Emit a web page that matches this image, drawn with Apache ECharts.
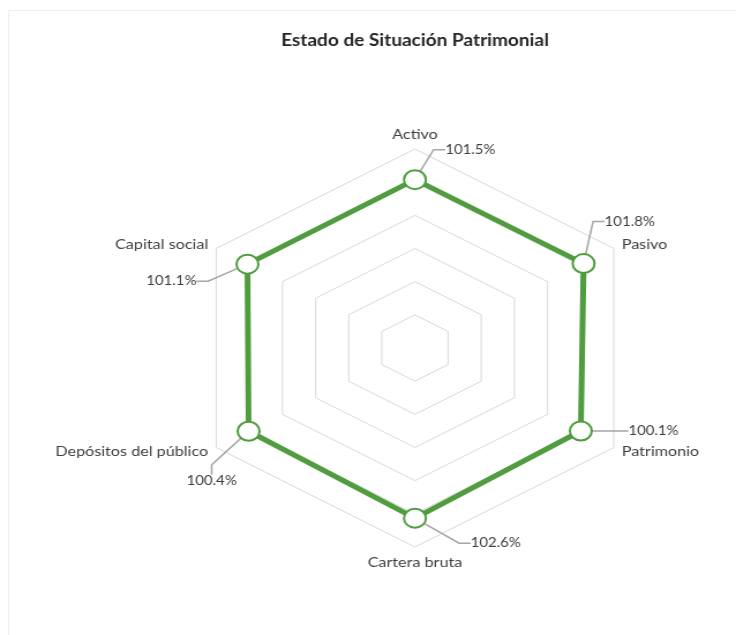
<!DOCTYPE html>
<html><head><meta charset="utf-8">
<script src="https://cdn.jsdelivr.net/npm/echarts@6/dist/echarts.min.js"></script>
<style>
html,body{margin:0;padding:0;background:#fff;overflow:hidden;}
#wrap{width:736px;height:635px;position:relative;overflow:hidden;}
#chart{width:638px;height:635px;transform:scaleX(1.1536);transform-origin:0 0;}
</style></head>
<body><div id="wrap"><div id="chart"></div></div>
<script>
// Data (clockwise from top, as in the reference)
var titleText = 'Estado de Situación Patrimonial';
var categories = ['Activo', 'Pasivo', 'Patrimonio', 'Cartera bruta', 'Depósitos del público', 'Capital social'];
var values = [101.5, 101.8, 100.1, 102.6, 100.4, 101.1];
var axisMax = 120;
var splitCount = 6;

// label offsets (px, relative to marker) — styling only
var labelOffsets = [[48,-30],[40,-42],[63,0],[70,25],[-32,50],[-66,17]];

// ECharts radar runs counter-clockwise; reorder to get clockwise layout
var order = [0,5,4,3,2,1];
var indicators = order.map(function(i){ return {name: categories[i], max: axisMax, min: 0}; });
var ordValues = order.map(function(i){ return values[i]; });
var ordOffsets = order.map(function(i){ return labelOffsets[i]; });

function fmt(v){ return v.toFixed(1) + '%'; }
var ordTexts = ordValues.map(fmt);

var green = '#4f9d3f';
var chart = echarts.init(document.getElementById('chart'), null, {renderer:'canvas'});
chart.setOption({
  animation: false,
  backgroundColor: '#fff',
  textStyle: {fontFamily: 'Lato'},
  graphic: [
    {type:'rect', left: 5, top: 8, shape:{width: 650, height: 650}, style:{fill:'none', stroke:'#eeeeee', lineWidth:1}, silent:true, z:-1},
    {type:'text', x: 359.7, y: 32, style:{text: titleText, fill:'#262626', font:'bold 16.5px Lato', textAlign:'center', textVerticalAlign:'top'}}
  ],
  radar: {
    center: [359.7, 348],
    radius: 199,
    startAngle: 90,
    splitNumber: splitCount,
    shape: 'polygon',
    indicator: indicators,
    axisName: {color:'#404040', fontSize: 14, fontFamily:'Lato'},
    nameGap: 8,
    axisLine: {show:false},
    axisTick: {show:false},
    axisLabel: {show:false},
    splitArea: {show:false},
    splitLine: {lineStyle:{color:'#d9d9d9', width:1}}
  },
  series: [{
    type: 'radar',
    symbol: 'circle',
    symbolSize: 19,
    lineStyle: {color: green, width: 5},
    itemStyle: {color: '#fff', borderColor: green, borderWidth: 2},
    label: {
      show: true,
      position: 'inside',
      color: '#404040',
      fontSize: 13,
      fontFamily: 'Lato',
      formatter: function(p){ return fmt(p.value); }
    },
    labelLine: {show: true, length2: 10, lineStyle:{color:'#a6a6a6', width:1.5}},
    labelLayout: function(p){
      var k = ordTexts.indexOf(p.text);
      if (k < 0) return {};
      return {dx: ordOffsets[k][0], dy: ordOffsets[k][1]};
    },
    data: [{value: ordValues, name: 'Estado'}]
  }]
});
</script></body></html>
